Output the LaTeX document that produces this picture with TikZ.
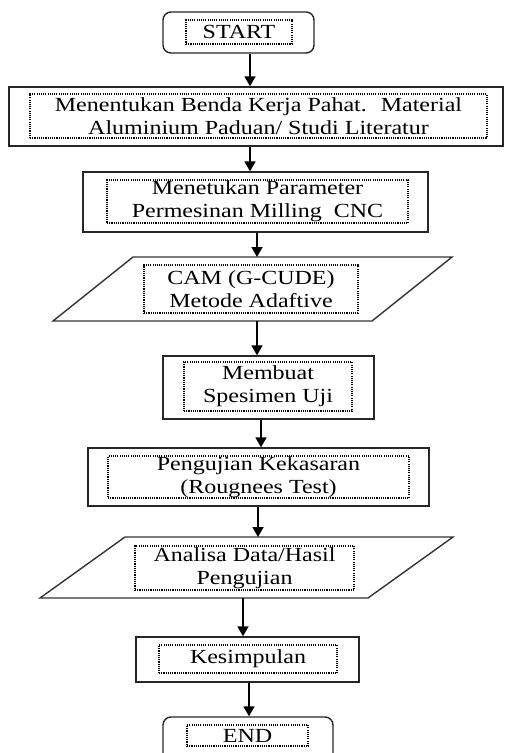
\documentclass[tikz,border=0pt]{standalone}
\usepackage{fontspec}
\setmainfont{Liberation Serif}[FakeStretch=1.2]
\usetikzlibrary{arrows.meta}
\tikzset{
  outerbox/.style={draw=black!85, line width=1.4pt, minimum width=#1, inner sep=0pt},
  innerbox/.style={draw=black, dash pattern=on 1.1pt off 1.1pt, line width=1.1pt, inner sep=0pt, align=center,
    font=\fontsize{20}{23}\selectfont, text=black},
  shape2/.style={draw=black!80, line width=1.4pt},
  arr/.style={draw=black, line width=1.8pt, -{Triangle[width=11pt,length=10pt]}}
}
\begin{document}
\begin{tikzpicture}[x=1pt,y=-1pt]
\useasboundingbox (0,0) rectangle (504,753);
% START
\node[outerbox=151pt, minimum height=41pt, rounded corners=8pt] (start) at (238.5,32.5) {};
\node[innerbox, minimum width=106pt, minimum height=24pt] (tstart) at (239,32) {START};
% Box 1
\node[outerbox=494pt, minimum height=59pt] (b1) at (256,116.5) {};
\node[innerbox, minimum width=457pt, minimum height=44pt] (t1) at (258.5,116) {Menentukan Benda Kerja Pahat.~ Material\\Aluminium Paduan/ Studi Literatur};
% Box 2
\node[outerbox=345pt, minimum height=60pt] (b2) at (255.5,202) {};
\node[innerbox, minimum width=301pt, minimum height=43pt] (t2) at (257.5,201.5) {Menetukan Parameter\\Permesinan Milling~ CNC};
% Parallelogram 1
\draw[shape2] (133,257) -- (452,257) -- (372,321) -- (53,321) -- cycle;
\coordinate (p1t) at (257,257);
\coordinate (p1b) at (257,321);
\node[innerbox, minimum width=214pt, minimum height=48pt] (t3) at (251,289) {CAM (G-CUDE)\\Metode Adaftive};
% Box 4
\node[outerbox=211pt, minimum height=63pt] (b4) at (268.5,387.5) {};
\node[innerbox, minimum width=168pt, minimum height=49pt] (t4) at (268,386.5) {Membuat\\Spesimen Uji};
% Box 5
\node[outerbox=341pt, minimum height=58pt] (b5) at (258.5,477) {};
\node[innerbox, minimum width=301pt, minimum height=42pt] (t5) at (258.5,477) {Pengujian Kekasaran\\(Rougnees Test)};
% Parallelogram 2
\draw[shape2] (125,537) -- (453,537) -- (368,598) -- (40,598) -- cycle;
\coordinate (p2t) at (258,537);
\coordinate (p2b) at (243,598);
\node[innerbox, minimum width=219pt, minimum height=44pt] (t6) at (244.5,568) {Analisa Data/Hasil\\Pengujian};
% Box 7
\node[outerbox=223pt, minimum height=45pt] (b7) at (247.5,659.5) {};
\node[innerbox, minimum width=178pt, minimum height=28pt] (t7) at (248,659) {Kesimpulan};
% END
\node[outerbox=170pt, minimum height=46pt, rounded corners=8pt] (end) at (248,740) {};
\node[innerbox, minimum width=121pt, minimum height=21pt] (tend) at (247.5,735.5) {END};
% x positions of arrows
\coordinate (xa) at (250,0);
\coordinate (xb) at (257,0);
\coordinate (xc) at (261,0);
\coordinate (xd) at (249,0);
% Arrows
\draw[arr] (start.south -| xa) -- (b1.north -| xa);
\draw[arr] (b1.south -| xa) -- (b2.north -| xa);
\draw[arr] (b2.south -| xb) -- (p1t);
\draw[arr] (p1b) -- (b4.north -| xb);
\draw[arr] (b4.south -| xc) -- (b5.north -| xc);
\draw[arr] (b5.south -| p2t) -- (p2t);
\draw[arr] (p2b) -- (b7.north -| p2b);
\draw[arr] (b7.south -| xd) -- (end.north -| xd);
\end{tikzpicture}
\end{document}
